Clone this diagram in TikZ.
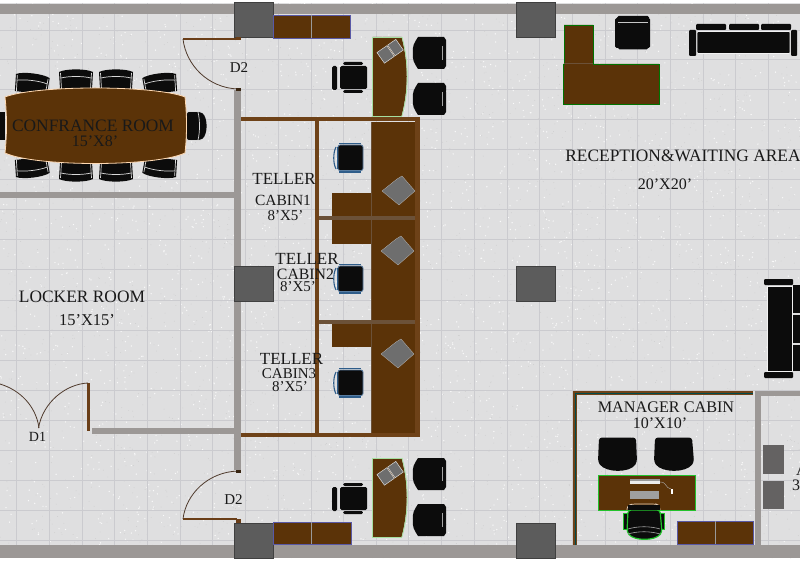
\documentclass[tikz,border=0pt]{standalone}
\usepackage{fontspec}
\setmainfont{Liberation Serif}
\definecolor{floorc}{HTML}{DFDFE0}
\definecolor{gridc}{HTML}{CBCBCF}
\definecolor{wallc}{HTML}{9C9896}
\definecolor{pillarc}{HTML}{5C5C5C}
\definecolor{woodc}{HTML}{5B3308}
\definecolor{framec}{HTML}{6E4218}
\definecolor{divc}{HTML}{6B5138}
\definecolor{chairc}{HTML}{0C0C0C}
\definecolor{leafc}{HTML}{6A3E18}
\definecolor{arcc}{HTML}{4F3A2C}
\definecolor{deskgreen}{HTML}{22C22C}
\definecolor{palegreen}{HTML}{A6DFA0}
\definecolor{bluec}{HTML}{2F5D8A}
\definecolor{graybox}{HTML}{646262}
\definecolor{paperc}{HTML}{6E6E6E}
\tikzset{
  wall/.style={fill=wallc,draw=none},
  wood/.style={fill=woodc,draw=none},
  frame/.style={fill=framec,draw=none},
  divider/.style={fill=divc,draw=none},
  cabinet/.style={fill=woodc,draw=gray!70!blue,line width=.7pt},
  rimc/.style={draw=white!85!black,line width=.7pt},
  leaf/.style={draw=leafc,line width=2.2pt},
  swing/.style={draw=arcc,line width=.8pt},
  lab/.style={font=\fontsize{#1}{#1}\selectfont,text=black!90,inner sep=0pt,anchor=center},
}
\newcommand{\confchair}[3]{%
  \begin{scope}[shift={(#1,#2)},rotate=#3]
    \fill[chairc] (-16,10) -- (-17,-7) .. controls (-10,-10.5) and (10,-10.5) .. (17,-7) -- (16,10) -- cycle;
    \draw[rimc] (-15,-1) .. controls (-7,-3) and (7,-3) .. (15,-1);
    \draw[rimc] (-15.5,-6) -- (-14.5,10);
    \draw[rimc] (15.5,-6) -- (14.5,10);
  \end{scope}}
\newcommand{\visitor}[2]{%
  \fill[chairc] (#1+5,#2) -- (#1+31,#2) -- (#1+33,#2+3) -- (#1+33,#2+29) -- (#1+31,#2+32) -- (#1+5,#2+32)
    .. controls (#1+1,#2+26) and (#1-1,#2+22) .. (#1,#2+16) .. controls (#1-1,#2+10) and (#1+1,#2+6) .. (#1+5,#2) -- cycle;
  \draw[gray!70,line width=.6pt] (#1+29.5,#2+9) -- (#1+29.5,#2+23);}
\newcommand{\tellerchair}[2]{%
  \begin{scope}[shift={(#1,#2)}]
    \draw[bluec,line width=1.2pt] (-11,-14.5) -- (11,-14.5);
    \draw[bluec,line width=1.2pt] (-11,14) -- (11,14);
    \fill[chairc,rounded corners=2pt,draw=bluec!80,line width=.8pt] (-12,-13) rectangle (13,12.5);
    \draw[bluec,line width=1.1pt] (-14,-11) .. controls (-17,-5) and (-17,5) .. (-14,11);
    \draw[bluec,line width=.7pt] (-12.5,-11) -- (-12.5,11);
  \end{scope}}
\newcommand{\paperwork}[2]{%
  \fill[paperc,draw=gray!60,line width=.3pt,shift={(#1,#2)}] (-16,1) -- (-1,-11) -- (4,-14) -- (17,1) -- (1,15) -- cycle;}
\newcommand{\curvedesk}[2]{%
  \fill[woodc] (#1,#2) -- (#1+29,#2) .. controls (#1+36,#2+26) and (#1+36,#2+53) .. (#1+29,#2+79) -- (#1,#2+79) -- cycle;
  \draw[palegreen,line width=.8pt] (#1+29,#2) -- (#1,#2) -- (#1,#2+79) -- (#1+29,#2+79);
  \draw[palegreen,line width=.8pt] (#1+29.5,#2) .. controls (#1+36.5,#2+26) and (#1+36.5,#2+53) .. (#1+29.5,#2+79);}
\newcommand{\deskpaper}[2]{%
  \begin{scope}[shift={(#1,#2)},rotate=35]
    \fill[paperc,draw=gray!30,line width=.5pt] (-11,-7) rectangle (1,6);
    \fill[paperc,draw=gray!30,line width=.5pt] (2,-7) rectangle (12,6);
  \end{scope}}
\newcommand{\smallchair}[2]{%
  \begin{scope}[shift={(#1,#2)}]
    \fill[chairc,rounded corners=1.5pt] (0,0) rectangle (27,23);
    \fill[chairc,rounded corners=1.5pt] (3,-4) rectangle (23,-1);
    \fill[chairc,rounded corners=1.5pt] (3,24) rectangle (23,27);
    \fill[chairc,rounded corners=1.5pt] (-8,0) rectangle (-3,24);
  \end{scope}}
\begin{document}
\begin{tikzpicture}[x=1pt,y=-1pt]
\useasboundingbox (0,0) rectangle (800,561);
\fill[white] (0,0) rectangle (800,561);
\fill[floorc] (0,3) rectangle (800,558);
% speckled terrazzo
\pgfmathsetseed{7}
\foreach \i in {1,...,5000}{
  \pgfmathsetmacro{\xa}{rnd*800}\pgfmathsetmacro{\ya}{rnd*555+3}
  \pgfmathsetmacro{\ss}{rnd>0.45?1:0}
  \ifdim\ss pt>0.5pt \fill[white!96!gray] (\xa,\ya) circle (.7);\else\fill[gray!38] (\xa,\ya) circle (.45);\fi
}
% tile grid
\foreach \gx in {16,49,82,114,147,180,212,245,278,311,343,376,408,441,474,507,539,572,605,637,670,703,735,768}
  \draw[gridc,line width=1pt] (\gx,3) -- (\gx,558);
\foreach \gy in {31,60,90,120,150,180,210,240,270,300,330,360,390,420,450,480,510,540}
  \draw[gridc,line width=1pt] (0,\gy) -- (800,\gy);
% outer walls
\fill[wall] (0,4) rectangle (800,14);
\fill[wall] (0,545) rectangle (800,558);
% interior walls
\fill[wall] (234,90) rectangle (241,470);
\fill[wall] (0,192) rectangle (236,198);
\fill[wall] (92,428) rectangle (236,434);
\fill[wall] (755,391) rectangle (761,545);
\fill[wall] (755,391) rectangle (800,396);
% pillars
\foreach \px/\py in {234/2,516/2,234/266,516/266,234/523,516/523}
  \fill[pillarc,draw=black!75,line width=.8pt] (\px,\py) rectangle ++(39,35.5);
% doors
\draw[leaf] (183,39) -- (238,39);
\fill[leafc] (236,37) rectangle (241,40.5);
\draw[swing] (183,39) .. controls (186,65) and (208,88) .. (238,89);
\fill[black!70!brown] (236,88) rectangle (241,91);
\draw[leaf] (183,519) -- (237,519);
\fill[leafc] (236,519) rectangle (241,522.5);
\draw[swing] (183,519) .. controls (186,494) and (208,472) .. (238,471);
\fill[black!70!brown] (236,470) rectangle (241,472.5);
\draw[leaf,line width=3pt] (88,383) -- (88,431);
\draw[swing] (88,383) .. controls (66,384) and (43,402) .. (38.5,428);
\draw[swing] (39,428) .. controls (36,406) and (20,390) .. (0,384);
% conference room
\confchair{32}{83}{-7}
\confchair{76}{79}{0}
\confchair{116}{79}{0}
\confchair{160}{83}{7}
\confchair{32}{168}{187}
\confchair{76}{172}{180}
\confchair{116}{172}{180}
\confchair{160}{168}{173}
\fill[chairc,rounded corners=2pt] (187,112) -- (201,112) .. controls (208,118) and (208,134) .. (201,140) -- (187,140) -- cycle;
\draw[rimc] (187,111.5) -- (201,111.5) (187,140.5) -- (201,140.5) (198,112) .. controls (200,120) and (200,132) .. (198,140);
\fill[chairc] (0,112) rectangle (5,140);
\fill[woodc,draw=orange!30!white,line width=.8pt] (5,97) .. controls (35,85) and (155,85) .. (185,97)
  .. controls (187,115) and (187,135) .. (185,153) .. controls (155,167) and (35,167) .. (5,153)
  .. controls (7,135) and (7,115) .. (5,97) -- cycle;
% cabinets
\fill[cabinet] (273,15) rectangle (350,38);
\draw[gray!80,line width=.8pt] (311.5,15) -- (311.5,38);
\fill[cabinet] (273,522) rectangle (351,544);
\draw[gray!80,line width=.8pt] (311.5,522) -- (311.5,544);
% desks beside teller block
\curvedesk{372.5}{37}
\deskpaper{390}{52}
\visitor{413}{37}
\visitor{413}{83}
\smallchair{340}{66}
\curvedesk{372.5}{458}
\deskpaper{390}{474}
\visitor{413}{458}
\visitor{413}{504}
\smallchair{340}{487}
% teller block
\fill[wood] (371,122) rectangle (415,433);
\fill[wood] (332,193) rectangle (371,216);
\fill[wood] (332,220) rectangle (371,244);
\fill[wood] (332,324) rectangle (371,347);
\fill[divider] (319,216.5) rectangle (415,220.5);
\fill[divider] (319,320) rectangle (415,324);
\draw[divc,line width=.6pt] (371,122) -- (371,433);
\fill[frame] (241,117.5) rectangle (420,121.5);
\fill[frame] (241,433) rectangle (420,437);
\fill[frame] (315,118) rectangle (319,437);
\fill[frame] (415,118) rectangle (420,437);
\paperwork{398}{190}
\paperwork{397}{250}
\paperwork{397}{353}
\tellerchair{350}{158}
\tellerchair{350}{279}
\tellerchair{350}{383}
% reception L desk
\fill[wood,draw=green!45!black,line width=.6pt] (564,25) -- (593,25) -- (593,64) -- (659,64) -- (659,104) -- (563,104) -- (563,64) -- (564,64) -- cycle;
\draw[divc,line width=.8pt] (564,63.5) -- (593,63.5);
% armchair
\fill[chairc,rounded corners=1.5pt] (617,16) rectangle (649,24);
\fill[chairc,rounded corners=1.5pt] (615,18) rectangle (619,48);
\fill[chairc,rounded corners=1.5pt] (646,18) rectangle (650,48);
\fill[chairc,rounded corners=1.5pt] (618,24) rectangle (648,49.5);
\draw[gray!45,line width=.4pt] (618,22.5) -- (648,22.5);
% upper sofa
\fill[chairc,draw=white!90!gray,line width=.7pt,rounded corners=1pt] (697,31.5) rectangle (790,53.5);
\fill[chairc,rounded corners=1pt] (689,30) rectangle (696,56);
\fill[chairc,rounded corners=1pt] (791,30) rectangle (797,56);
\fill[chairc,rounded corners=1pt] (696,24) rectangle (726,30);
\fill[chairc,rounded corners=1pt] (729,24) rectangle (759,30);
\fill[chairc,rounded corners=1pt] (761,24) rectangle (791,30);
% right sofa
\fill[chairc,draw=white!90!gray,line width=.7pt] (767,286) rectangle (792.5,371);
\fill[chairc,rounded corners=1pt] (764,279) rectangle (793,285);
\fill[chairc,rounded corners=1pt] (764,372) rectangle (793,378);
\fill[chairc] (793,285) rectangle (800,313);
\fill[chairc] (793,314.5) rectangle (800,343);
\fill[chairc] (793,344.5) rectangle (800,371);
% manager cabin frame
\fill[frame] (573,391) rectangle (753,395);
\fill[frame] (573,391) rectangle (577,545);
\draw[teal!60!black,line width=1pt] (575,545) -- (575,393.5) -- (753,393.5);
% manager furniture
\fill[chairc,rounded corners=3pt] (599,437.5) -- (636,437.5) -- (637,462) .. controls (630,473) and (606,473) .. (598,462) -- cycle;
\fill[chairc,rounded corners=3pt] (655,437.5) -- (692,437.5) -- (694,462) .. controls (686,473) and (662,473) .. (654,462) -- cycle;
\fill[woodc,draw=deskgreen,line width=1pt] (598,475) rectangle (695,510);
\fill[white!85!gray] (630,479) rectangle (660,484);
\fill[gray!80] (630,479) rectangle (660,481);
\fill[gray!75] (630,491) rectangle (659,499);
\draw[gray!60,line width=.4pt] (660,482) .. controls (667,482) and (665,488) .. (671,489);
\fill[white] (670.5,489) rectangle (673,494);
% manager chair
\fill[chairc,draw=deskgreen,line width=.8pt] (623,513) rectangle (629,529);
\fill[chairc,draw=deskgreen,line width=.8pt] (658,513) rectangle (664,529);
\fill[chairc,draw=deskgreen,line width=1.2pt,rounded corners=3pt] (628,510) -- (660,510) -- (662,532) .. controls (655,541) and (634,541) .. (627,532) -- cycle;
\draw[gray!60!orange!40!white,line width=.7pt,rounded corners=3pt] (627,510) -- (627,506) -- (632,504) -- (656,504) -- (660,506) -- (660,510);
\fill[chairc] (628,505) rectangle (659.5,510);
\draw[gray!70,line width=.6pt] (628,529) .. controls (638,526) and (650,526) .. (660,529);
\draw[gray!70,line width=.6pt] (628,534) .. controls (638,531) and (650,531) .. (660,534);
% manager cabinets
\fill[cabinet] (677,521) rectangle (753,544);
\draw[gray!80,line width=.8pt] (715,521) -- (715,544);
% gray boxes
\fill[graybox] (763,445) rectangle (784,474);
\fill[graybox] (763,481) rectangle (784,509);
% labels
\node[lab=17.4] (conf) at (93,125.5) {CONFRANCE ROOM};
\node[lab=16] (confdim) at (95,141) {15'X8'};
\node[lab=15] (d2top) at (239,68) {D2};
\node[lab=15] (d2bot) at (233.5,500) {D2};
\node[lab=14] (d1) at (37.5,437) {D1};
\node[lab=17.4] (locker) at (82,297) {LOCKER ROOM};
\node[lab=16.5] (lockerdim) at (87,320) {15'X15'};
\node[lab=17] (t1) at (284,179) {TELLER};
\node[lab=15.5] (c1) at (283,200) {CABIN1};
\node[lab=15] (c1d) at (285.5,215.5) {8'X5'};
\node[lab=17] (t2) at (307,259) {TELLER};
\node[lab=15.8] (c2) at (305.5,274) {CABIN2};
\node[lab=15] (c2d) at (298,287) {8'X5'};
\node[lab=17] (t3) at (291.5,359) {TELLER};
\node[lab=15] (c3) at (289,374) {CABIN3};
\node[lab=15] (c3d) at (290,387) {8'X5'};
\node[lab=17.4] (recep) at (683,156) {RECEPTION\&WAITING AREA};
\node[lab=16] (recepdim) at (665,184) {20'X20'};
\node[lab=16.2] (mgr) at (666,407) {MANAGER CABIN};
\node[lab=16] (mgrdim) at (660,423.5) {10'X10'};
\node[lab=16,anchor=west] (acc) at (796,470) {A};
\node[lab=16,anchor=west] (accd) at (792,485) {3};
\end{tikzpicture}
\end{document}
